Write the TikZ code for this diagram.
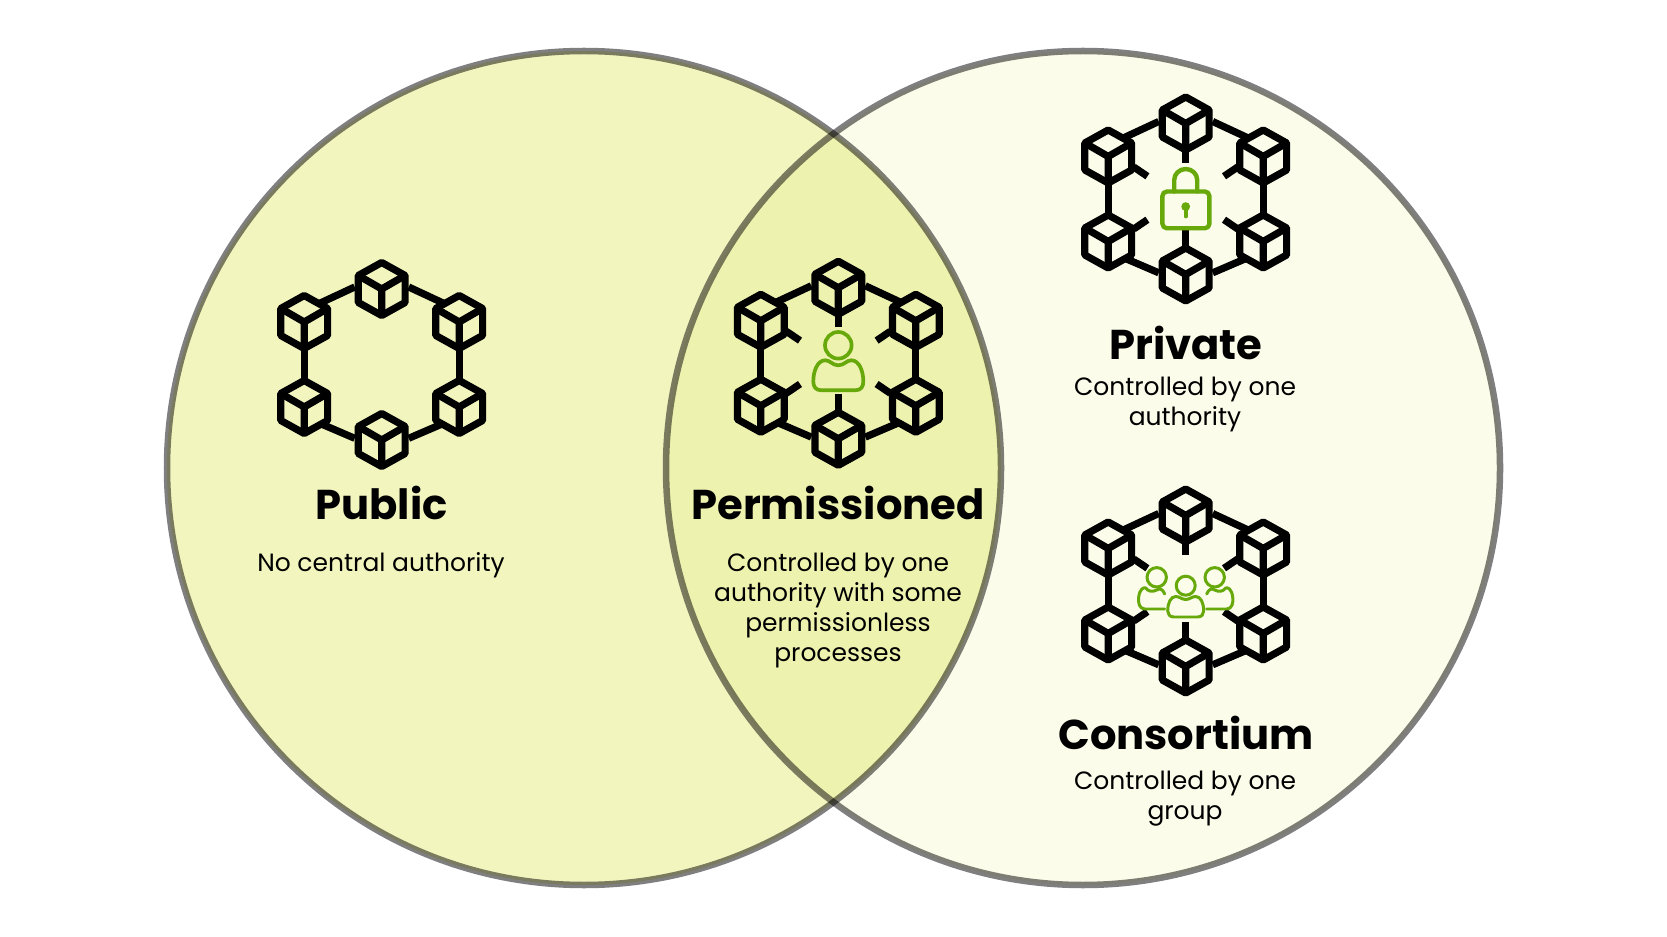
\documentclass[tikz,border=0pt]{standalone}
\usepackage{fontspec}
\setmainfont{Poppins}
\definecolor{leftfill}{HTML}{F3F5BE}
\definecolor{rightfill}{HTML}{FBFCEA}
\definecolor{midfill}{HTML}{EEF2AF}
\definecolor{icongreen}{HTML}{67A80B}
\tikzset{
  rim/.style={draw=black, draw opacity=0.5, line width=1.85pt},
  blockline/.style={black, line width=2.05pt, line join=round},
  greenline/.style={icongreen, line width=1.05pt, line join=round, line cap=round},
  headtext/.style={font=\fontsize{11.85}{14}\selectfont\bfseries, text=black},
  subtext/.style={font=\fontsize{7.1}{8.54}\selectfont, text=black, align=center},
  pics/cube/.style={code={
    \draw[blockline] (0,-26.5) -- (23.4,-13.5) -- (23.4,13.5) -- (0,26.5) -- (-23.4,13.5) -- (-23.4,-13.5) -- cycle;
    \draw[blockline] (-23.4,-13.5) -- (0,0) -- (23.4,-13.5) (0,0) -- (0,26.5);
  }},
  % six cubes and the links round them
  pics/blockring/.style={code={
    \foreach \cx/\cy in {0/-75.5, -77.5/-42.5, 77.5/-42.5, -77.5/42.5, 77.5/42.5, 0/75.5}
      \pic at (\cx,\cy) {cube};
    \draw[blockline] (-63.5,-60.5) -- (-27,-77.5);
    \draw[blockline] (27,-77.5) -- (63.5,-60.5);
    \draw[blockline] (-61.5,59) -- (-27,73.8);
    \draw[blockline] (27,73.8) -- (61.5,59);
    \draw[blockline] (-77.5,-15.5) -- (-77.5,15.5);
    \draw[blockline] (77.5,-15.5) -- (77.5,15.5);
  }},
  pics/blockspokes/.style={code={
    \draw[blockline] (0,-50) -- (0,-36);
    \draw[blockline] (0,31) -- (0,50);
    \draw[blockline] (-52,-32) -- (-38.3,-22.7);
    \draw[blockline] (52,-32) -- (38.3,-22.7);
    \draw[blockline] (-52,30) -- (-38.3,20.7);
    \draw[blockline] (52,30) -- (38.3,20.7);
  }},
  pics/personmark/.style={code={
    \draw[greenline] (0,-18) circle[radius=13.3];
    \draw[greenline] (-17,27) .. controls (-23,27) and (-25,23) .. (-25,18)
      .. controls (-25,8) and (-21,-3) .. (-13,-3)
      .. controls (-8,-3) and (-6,2) .. (0,2)
      .. controls (6,2) and (8,-3) .. (13,-3)
      .. controls (21,-3) and (25,8) .. (25,18)
      .. controls (25,23) and (23,27) .. (17,27) -- cycle;
  }},
  pics/lockmark/.style={code={
    \draw[greenline, line width=1.25pt, rounded corners=1.3pt] (-23.3,-7.5) rectangle (23.7,29.3);
    \draw[greenline, line width=1.25pt] (-11.5,-7.5) -- (-11.5,-19) arc[start angle=180, end angle=360, x radius=11.5, y radius=11] -- (11.5,-7.5);
    \fill[icongreen] (0,7.6) circle[radius=4.4];
    \draw[icongreen, line width=1.05pt, line cap=round] (0,8) -- (0,17.5);
  }},
  pics/groupmark/.style={code={
    \draw[greenline, line width=0.85pt] (0,-5.3) circle[radius=9.5];
    \draw[greenline, line width=0.85pt] (-12,26) .. controls (-16,26) and (-18,23) .. (-18,20)
      .. controls (-18,12) and (-15,5.5) .. (-10,5.5)
      .. controls (-6,5.5) and (-4,8.5) .. (0,8.5)
      .. controls (4,8.5) and (6,5.5) .. (10,5.5)
      .. controls (15,5.5) and (18,12) .. (18,20)
      .. controls (18,23) and (16,26) .. (12,26) -- cycle;
    \draw[greenline, line width=0.85pt] (-29,-13.7) circle[radius=9.7];
    \draw[greenline, line width=0.85pt] (29,-13.7) circle[radius=9.7];
    \draw[greenline, line width=0.85pt] (-21,3) .. controls (-23,-2) and (-26,-3) .. (-29,-1)
      .. controls (-33,1) and (-37,1) .. (-40,-3)
      .. controls (-42,-4) and (-46,-2) .. (-47,6)
      .. controls (-48,12) and (-46,18) .. (-41,18) -- (-21,18);
    \draw[greenline, line width=0.85pt] (21,3) .. controls (23,-2) and (26,-3) .. (29,-1)
      .. controls (33,1) and (37,1) .. (40,-3)
      .. controls (42,-4) and (46,-2) .. (47,6)
      .. controls (48,12) and (46,18) .. (41,18) -- (21,18);
  }}
}
\begin{document}
\begin{tikzpicture}[x=0.01cm, y=-0.01cm]
  \useasboundingbox (0,0) rectangle (1667,937);
  \fill[white] (0,0) rectangle (1667,937);

  % The two circles
  \fill[leftfill] (584,468) circle[radius=417];
  \fill[rightfill] (1083,468) circle[radius=417];
  \begin{scope}
    \clip (584,468) circle[radius=417];
    \fill[midfill] (1083,468) circle[radius=417];
  \end{scope}
  \draw[rim] (584,468) circle[radius=417];
  \draw[rim] (1083,468) circle[radius=417];

  % Public
  \pic at (381.7,364.5) {blockring};
  \node[headtext] (publichead) at (381.5,502.7) {Public};
  \node[subtext] (publictext) at (381,565) {No central authority};

  % Permissioned
  \pic at (838.3,363.3) {blockring};
  \pic at (838.3,363.3) {blockspokes};
  \pic at (838.3,363.3) {personmark};
  \node[headtext] (permhead) at (838,502.7) {Permissioned};
  \node[subtext] (permtext) at (838,610.7) {Controlled by one\\authority with some\\permissionless\\processes};

  % Private
  \pic at (1185.7,199) {blockring};
  \pic at (1185.7,199) {blockspokes};
  \pic at (1185.7,199) {lockmark};
  \node[headtext] (privatehead) at (1186,343) {Private};
  \node[subtext] (privatetext) at (1185,404.2) {Controlled by one\\authority};

  % Consortium
  \pic at (1185.7,591) {blockring};
  \pic at (1185.7,591) {blockspokes};
  \pic at (1185.7,591) {groupmark};
  \node[headtext] (consorthead) at (1186,733) {Consortium};
  \node[subtext] (consorttext) at (1185,799) {Controlled by one\\group};
\end{tikzpicture}
\end{document}
